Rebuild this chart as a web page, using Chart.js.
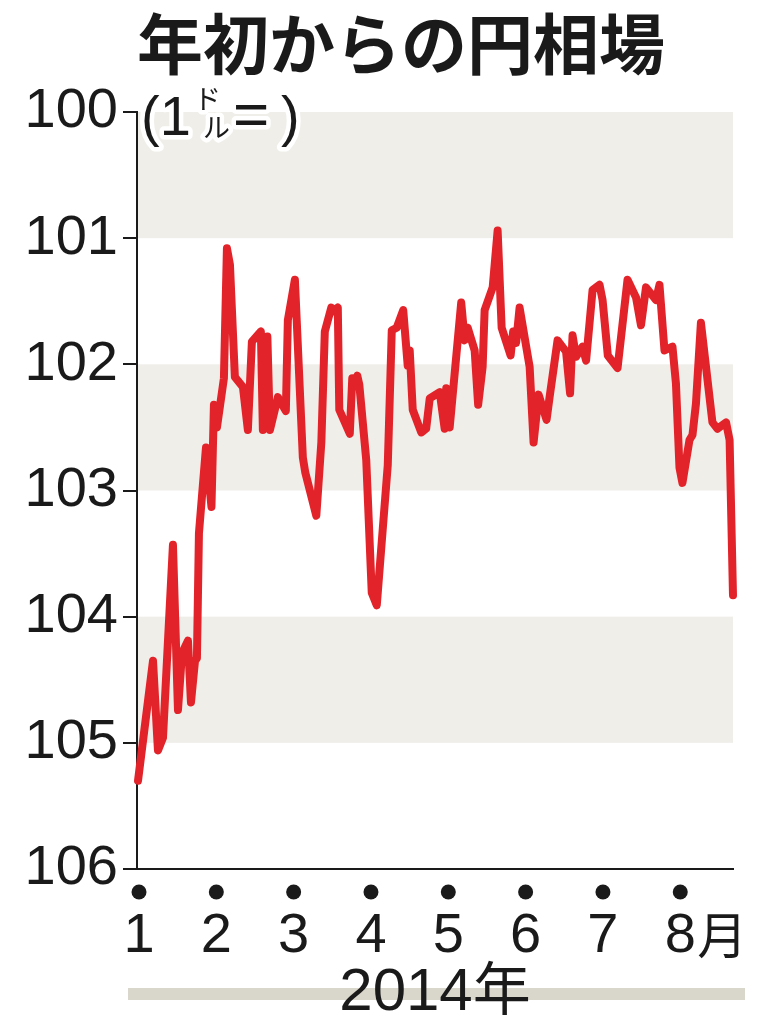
<!DOCTYPE html>
<html>
<head>
<meta charset="utf-8">
<script src="https://cdn.jsdelivr.net/npm/chart.js@4.4.0/dist/chart.umd.min.js"></script>
<style>
  html, body { margin: 0; padding: 0; background: #fff; }
  canvas { display: block; }
</style>
</head>
<body>
<canvas id="chart" width="757" height="1024"></canvas>
<script>
// date position in months (1 = start of January 2014)
const datePos = [
  0.987, 1.181, 1.245, 1.310, 1.439, 1.504, 1.556, 1.633, 1.672, 1.724, 1.749, 1.775, 1.866, 1.937, 1.969,
  2.008, 2.098, 2.137, 2.176, 2.240, 2.344, 2.408, 2.460, 2.576, 2.602, 2.660, 2.693, 2.796, 2.899, 2.925,
  3.016, 3.119, 3.151, 3.293, 3.358, 3.403, 3.487, 3.532, 3.571, 3.590, 3.726, 3.758, 3.791, 3.823, 3.849, 3.939,
  4.010, 4.075, 4.217, 4.269, 4.333, 4.417, 4.475, 4.501, 4.540, 4.650, 4.714, 4.760, 4.889, 4.953, 4.973,
  5.018, 5.167, 5.212, 5.251, 5.341, 5.386, 5.444, 5.470, 5.574, 5.638, 5.690, 5.806, 5.839, 5.877, 5.922,
  6.052, 6.103, 6.168, 6.271, 6.310, 6.413, 6.523, 6.575, 6.607, 6.652, 6.736, 6.782, 6.866, 6.956, 6.995,
  7.063, 7.189, 7.318, 7.428, 7.492, 7.557, 7.686, 7.731, 7.796, 7.899, 7.944, 7.990,
  8.028, 8.119, 8.158, 8.203, 8.267, 8.416, 8.481, 8.592, 8.638, 8.682
];
// yen per dollar
const yenRate = [
  105.30, 104.35, 105.06, 104.96, 103.43, 104.74, 104.29, 104.19, 104.68, 104.35, 104.33, 103.34, 102.66, 103.13, 102.32,
  102.50, 102.11, 101.08, 101.21, 102.10, 102.18, 102.52, 101.82, 101.74, 102.52, 101.78, 102.52, 102.26, 102.37, 101.65,
  101.33, 102.74, 102.86, 103.20, 102.62, 101.74, 101.55, 101.58, 101.55, 102.36, 102.55, 102.11, 102.14, 102.09, 102.16, 102.76,
  103.81, 103.91, 102.80, 101.73, 101.71, 101.57, 102.01, 101.89, 102.36, 102.54, 102.51, 102.27, 102.22, 102.51, 102.19,
  102.50, 101.51, 101.81, 101.71, 101.89, 102.32, 102.02, 101.57, 101.39, 100.94, 101.71, 101.93, 101.74, 101.83, 101.55,
  102.02, 102.62, 102.24, 102.44, 102.26, 101.81, 101.90, 102.23, 101.77, 101.94, 101.86, 101.97, 101.41, 101.37, 101.49,
  101.93, 102.03, 101.33, 101.47, 101.69, 101.39, 101.49, 101.37, 101.89, 101.86, 102.15, 102.82,
  102.94, 102.60, 102.56, 102.31, 101.67, 102.46, 102.51, 102.46, 102.60, 103.83
];
const monthTicks = [1, 2, 3, 4, 5, 6, 7, 8];
const rateTicks = [100, 101, 102, 103, 104, 105, 106];
const bandRanges = [[100, 101], [102, 103], [104, 105]];

const INK = '#1a1a1a';
const NUM_FONT = '"Liberation Sans", Arial, sans-serif';
const JP_FONT = '"Noto Sans CJK JP", sans-serif';

const bands = {
  id: 'bands',
  beforeDraw(chart) {
    const { ctx, chartArea, scales: { y } } = chart;
    ctx.save();
    ctx.fillStyle = '#efeee9';
    bandRanges.forEach(([a, b]) => {
      const y1 = y.getPixelForValue(a), y2 = y.getPixelForValue(b);
      ctx.fillRect(chartArea.left, y1, chartArea.right - chartArea.left, y2 - y1);
    });
    ctx.restore();
  }
};

const extras = {
  id: 'extras',
  afterDraw(chart) {
    const { ctx, chartArea, scales: { x } } = chart;
    ctx.save();
    // month dots
    ctx.fillStyle = INK;
    monthTicks.forEach(m => {
      ctx.beginPath();
      ctx.arc(x.getPixelForValue(m), 892, 7.5, 0, Math.PI * 2);
      ctx.fill();
    });
    // 月 after the last month label
    ctx.font = '50px ' + JP_FONT;
    ctx.textAlign = 'left';
    ctx.textBaseline = 'middle';
    ctx.fillText('月', x.getPixelForValue(8) + 17, 935);

    // unit label with white halo
    const parts = [
      ['(1', 141, 135, '56px ' + NUM_FONT],
      ['ド', 194, 109, '27px ' + JP_FONT],
      ['ル', 203, 138, '27px ' + JP_FONT],
      ['=', 233, 135, '62px ' + NUM_FONT],
      [')', 281, 135, '56px ' + NUM_FONT]
    ];
    ctx.textBaseline = 'alphabetic';
    ctx.lineJoin = 'round';
    ctx.strokeStyle = '#fff';
    ctx.lineWidth = 9;
    parts.forEach(([t, px, py, f]) => { ctx.font = f; ctx.strokeText(t, px, py); });
    ctx.fillStyle = INK;
    parts.forEach(([t, px, py, f]) => { ctx.font = f; ctx.fillText(t, px, py); });

    // year bar and label
    ctx.fillStyle = '#d9d6cc';
    ctx.fillRect(128, 988, 617, 12);
    ctx.fillStyle = INK;
    ctx.font = '60px ' + NUM_FONT;
    const yearX = (chartArea.left + chartArea.right) / 2;
    const numW = ctx.measureText('2014').width;
    ctx.font = '58px ' + JP_FONT;
    const kanjiW = ctx.measureText('年').width;
    const startX = yearX - (numW + kanjiW) / 2;
    ctx.textAlign = 'left';
    ctx.font = '60px ' + NUM_FONT;
    ctx.fillText('2014', startX, 1010);
    ctx.font = '58px ' + JP_FONT;
    ctx.fillText('年', startX + numW, 1010);

    // title
    ctx.textAlign = 'center';
    ctx.textBaseline = 'middle';
    ctx.font = 'bold 66px ' + JP_FONT;
    ctx.fillText('年初からの円相場', 401, 44);
    ctx.restore();
  }
};

new Chart(document.getElementById('chart'), {
  type: 'line',
  data: {
    datasets: [{
      data: datePos.map((d, i) => ({ x: d, y: yenRate[i] })),
      borderColor: '#e3232a',
      borderWidth: 8,
      pointRadius: 0,
      tension: 0,
      borderJoinStyle: 'round',
      borderCapStyle: 'round',
      clip: false
    }]
  },
  options: {
    responsive: false,
    animation: false,
    devicePixelRatio: 1,
    layout: { padding: { top: 112, right: 24, left: 0, bottom: 0 } },
    plugins: { legend: { display: false }, tooltip: { enabled: false }, title: { display: false } },
    scales: {
      x: {
        type: 'linear',
        min: 0.974,
        max: 8.682,
        afterFit: s => { s.height = 155; },
        afterBuildTicks: s => { s.ticks = monthTicks.map(v => ({ value: v })); },
        grid: { drawOnChartArea: false, drawTicks: true, tickLength: 22, color: 'rgba(0,0,0,0)' },
        border: { display: true, color: INK, width: 2 },
        ticks: {
          autoSkip: false,
          maxRotation: 0,
          padding: 12,
          color: INK,
          font: { family: NUM_FONT, size: 56, lineHeight: 1.2 },
          callback: v => String(v)
        }
      },
      y: {
        type: 'linear',
        reverse: true,
        min: 100,
        max: 106,
        afterFit: s => { s.width = 137; },
        afterBuildTicks: s => { s.ticks = rateTicks.map(v => ({ value: v })); },
        grid: { drawOnChartArea: false, drawTicks: true, tickLength: 14, color: INK, lineWidth: 2 },
        border: { display: true, color: INK, width: 2 },
        ticks: {
          padding: 5,
          color: INK,
          font: { family: NUM_FONT, size: 56 },
          callback: v => String(v)
        }
      }
    }
  },
  plugins: [bands, extras]
});
</script>
</body>
</html>
